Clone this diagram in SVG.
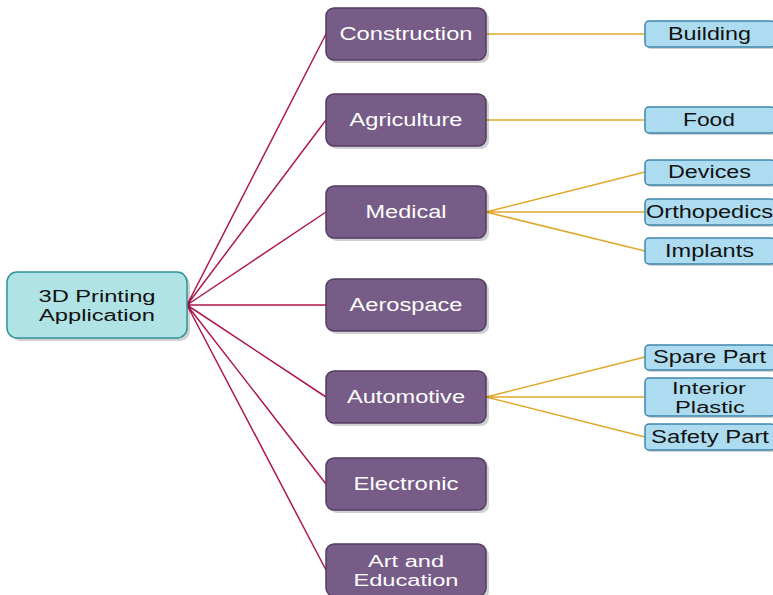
<svg xmlns="http://www.w3.org/2000/svg" width="773" height="595" viewBox="0 0 773 595">
<style>
.mid{fill:#765c87;stroke:#523d63;stroke-width:1.5}
.leaf{fill:#addcf0;stroke:#3c86ad;stroke-width:1.5}
.root{fill:#b0e3e6;stroke:#2e9494;stroke-width:1.5}
.sh{fill:#000;opacity:0.18}
text{font-family:"Liberation Sans",Arial,sans-serif;font-size:17.5px;text-anchor:middle}
text.two{font-size:16px}
.mt{fill:#fff}
.lt{fill:#111}
.c1{stroke:#b0174f;stroke-width:1.5;fill:none}
.c2{stroke:#e0a82e;stroke-width:1.5;fill:none}
</style>
<rect width="773" height="595" fill="#fff"/>
<g id="connectors">
<path class="c1" d="M187,305 L326,34 M187,305 L326,120 M187,305 L326,212 M187,305 L326,305 M187,305 L326,397 M187,305 L326,484 M187,305 L326,570"/>
<path class="c2" d="M486,34 L645,34 M486,120 L645,120 M486,212 L645,172 M486,212 L645,212 M486,212 L645,251 M486,397 L645,357 M486,397 L645,397 M486,397 L645,437"/>
</g>
<g id="root">
<rect class="sh" x="10" y="275" width="180" height="66" rx="10"/>
<rect class="root" x="7" y="272" width="180" height="66" rx="10"/>
<text class="lt two" x="97" y="302" textLength="117" lengthAdjust="spacingAndGlyphs">3D Printing</text>
<text class="lt two" x="97" y="320.5" textLength="116" lengthAdjust="spacingAndGlyphs">Application</text>
</g>
<g id="construction"><rect class="sh" x="329" y="11" width="160" height="52" rx="8"/><rect class="mid" x="326" y="8" width="160" height="52" rx="8"/><text class="mt" x="406" y="40" textLength="133" lengthAdjust="spacingAndGlyphs">Construction</text></g>
<g id="agriculture"><rect class="sh" x="329" y="97" width="160" height="52" rx="8"/><rect class="mid" x="326" y="94" width="160" height="52" rx="8"/><text class="mt" x="406" y="126" textLength="113" lengthAdjust="spacingAndGlyphs">Agriculture</text></g>
<g id="medical"><rect class="sh" x="329" y="189" width="160" height="52" rx="8"/><rect class="mid" x="326" y="186" width="160" height="52" rx="8"/><text class="mt" x="406" y="218" textLength="81" lengthAdjust="spacingAndGlyphs">Medical</text></g>
<g id="aerospace"><rect class="sh" x="329" y="282" width="160" height="52" rx="8"/><rect class="mid" x="326" y="279" width="160" height="52" rx="8"/><text class="mt" x="406" y="311" textLength="113" lengthAdjust="spacingAndGlyphs">Aerospace</text></g>
<g id="automotive"><rect class="sh" x="329" y="374" width="160" height="52" rx="8"/><rect class="mid" x="326" y="371" width="160" height="52" rx="8"/><text class="mt" x="406" y="403" textLength="118" lengthAdjust="spacingAndGlyphs">Automotive</text></g>
<g id="electronic"><rect class="sh" x="329" y="461" width="160" height="52" rx="8"/><rect class="mid" x="326" y="458" width="160" height="52" rx="8"/><text class="mt" x="406" y="490" textLength="105" lengthAdjust="spacingAndGlyphs">Electronic</text></g>
<g id="art"><rect class="sh" x="329" y="547" width="160" height="52" rx="8"/><rect class="mid" x="326" y="544" width="160" height="52" rx="8"/><text class="mt two" x="406" y="567" textLength="76" lengthAdjust="spacingAndGlyphs">Art and</text><text class="mt two" x="406" y="585.5" textLength="105" lengthAdjust="spacingAndGlyphs">Education</text></g>
<g id="building"><rect class="sh" x="647" y="23" width="130" height="26" rx="4"/><rect class="leaf" x="645" y="21" width="130" height="26" rx="4"/><text class="lt" x="709.5" y="40" textLength="83" lengthAdjust="spacingAndGlyphs">Building</text></g>
<g id="food"><rect class="sh" x="647" y="109" width="130" height="26" rx="4"/><rect class="leaf" x="645" y="107" width="130" height="26" rx="4"/><text class="lt" x="709" y="126" textLength="52" lengthAdjust="spacingAndGlyphs">Food</text></g>
<g id="devices"><rect class="sh" x="647" y="162" width="130" height="25" rx="4"/><rect class="leaf" x="645" y="160" width="130" height="25" rx="4"/><text class="lt" x="709.5" y="178" textLength="83" lengthAdjust="spacingAndGlyphs">Devices</text></g>
<g id="orthopedics"><rect class="sh" x="647" y="201" width="130" height="26" rx="4"/><rect class="leaf" x="645" y="199" width="130" height="26" rx="4"/><text class="lt" x="709.5" y="218" textLength="127" lengthAdjust="spacingAndGlyphs">Orthopedics</text></g>
<g id="implants"><rect class="sh" x="647" y="240" width="130" height="26" rx="4"/><rect class="leaf" x="645" y="238" width="130" height="26" rx="4"/><text class="lt" x="709.5" y="257" textLength="89" lengthAdjust="spacingAndGlyphs">Implants</text></g>
<g id="spare"><rect class="sh" x="647" y="347" width="130" height="25" rx="4"/><rect class="leaf" x="645" y="345" width="130" height="25" rx="4"/><text class="lt" x="709.5" y="363" textLength="113" lengthAdjust="spacingAndGlyphs">Spare Part</text></g>
<g id="interior"><rect class="sh" x="647" y="380" width="130" height="38" rx="4"/><rect class="leaf" x="645" y="378" width="130" height="38" rx="4"/><text class="lt two" x="709" y="394" textLength="74" lengthAdjust="spacingAndGlyphs">Interior</text><text class="lt two" x="710" y="412.5" textLength="70" lengthAdjust="spacingAndGlyphs">Plastic</text></g>
<g id="safety"><rect class="sh" x="647" y="426" width="130" height="26" rx="4"/><rect class="leaf" x="645" y="424" width="130" height="26" rx="4"/><text class="lt" x="710" y="443" textLength="118" lengthAdjust="spacingAndGlyphs">Safety Part</text></g>
</svg>
